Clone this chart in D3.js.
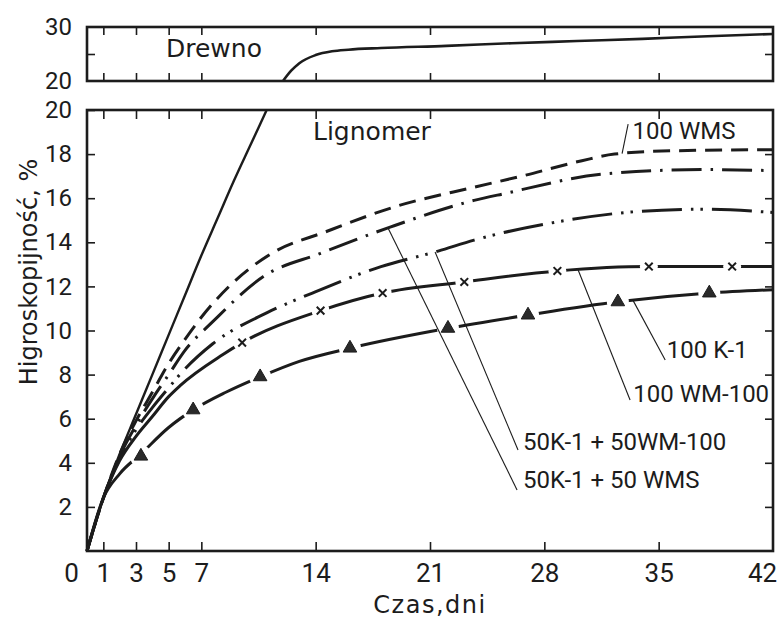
<!DOCTYPE html>
<html>
<head>
<meta charset="utf-8">
<script src="https://cdn.jsdelivr.net/npm/d3@7"></script>
<style>
  body { margin: 0; background: #fff; }
</style>
</head>
<body>
<div id="chart"></div>
<script>

// ---- data (days, hygroscopicity %) ----
const xTicks = [0, 1, 3, 5, 7, 14, 21, 28, 35, 42];
const yTicksMain = [2, 4, 6, 8, 10, 12, 14, 16, 18, 20];
const yTicksTop = [20, 30];

// wood (Drewno), lower panel up to 20 %, upper panel 20-30 %
const drewnoDays = [0, 1, 2, 3, 4, 5, 6, 7, 8, 9, 10, 11];
const drewnoVals = [0, 2.4, 4.4, 6.2, 8.0, 9.8, 11.6, 13.4, 15.1, 16.8, 18.4, 20.0];
const drewnoTopDays = [12, 12.5, 13, 14, 15, 16, 18, 22, 26, 30, 34, 38, 42];
const drewnoTopVals = [20, 21.9, 23.3, 24.8, 25.5, 25.8, 26.1, 26.5, 27.0, 27.4, 27.8, 28.3, 28.7];

// Lignomer series
const wmsDays = [0, 1, 2, 3, 4, 5, 6, 7, 8.7, 11.2, 14.7, 18.8, 23.7, 26.6, 30.3, 32.3, 35.8, 42];
const wmsVals = [0, 2.4, 4.4, 5.9, 7.2, 8.5, 9.6, 10.6, 12.0, 13.45, 14.5, 15.6, 16.5, 17.0, 17.7, 18.0, 18.15, 18.2];

const k1wmsDays = [0, 1, 2, 3, 4, 5, 6, 7.7, 10.8, 14.3, 18.6, 23.7, 25.5, 31.7, 37.8, 42];
const k1wmsVals = [0, 2.4, 4.3, 5.7, 6.9, 8.0, 9.1, 10.4, 12.45, 13.5, 14.7, 15.9, 16.2, 17.1, 17.3, 17.25];

const k1wm100Days = [0, 1, 2, 3, 4, 5, 5.8, 7.7, 11.0, 13.8, 18.0, 21.5, 23.7, 28.6, 33.8, 37.8, 42];
const k1wm100Vals = [0, 2.4, 4.2, 5.5, 6.5, 7.4, 8.1, 9.4, 10.8, 11.7, 12.9, 13.6, 14.1, 14.9, 15.4, 15.5, 15.35];

const wm100Days = [0, 1, 2, 3, 4, 5, 5.7, 8.3, 9.5, 14.3, 18.1, 23.1, 28.8, 34.4, 39.5, 42];
const wm100Vals = [0, 2.4, 4.1, 5.2, 6.1, 7.0, 7.5, 8.9, 9.45, 10.9, 11.7, 12.2, 12.7, 12.9, 12.9, 12.9];
const wm100MarkDays = [9.5, 14.3, 18.1, 23.1, 28.8, 34.4, 39.5];
const wm100MarkVals = [9.45, 10.9, 11.7, 12.2, 12.7, 12.9, 12.9];

const k1Days = [0, 1, 2, 3.3, 5, 6.5, 8.5, 10.6, 13, 16.1, 22.1, 27.0, 32.5, 38.1, 42];
const k1Vals = [0, 2.4, 3.5, 4.4, 5.6, 6.4, 7.2, 7.9, 8.6, 9.2, 10.1, 10.7, 11.3, 11.7, 11.85];
const k1MarkDays = [3.3, 6.5, 10.6, 16.1, 22.1, 27.0, 32.5, 38.1];
const k1MarkVals = [4.3, 6.4, 7.9, 9.2, 10.1, 10.7, 11.3, 11.7];

// ---- layout ----
const width = 780, height = 621;
const ink = "#1c1c1c";
const tickFont = "'Liberation Sans Narrow', Roboto, sans-serif";

const svg = d3.select("#chart").append("svg")
    .attr("width", width)
    .attr("height", height);

const x = d3.scaleLinear().domain([0, 42]).range([87, 773]);
const y = d3.scaleLinear().domain([0, 20]).range([551, 110]);
const yTop = d3.scaleLinear().domain([20, 30]).range([81, 27]);

const innerX = xTicks.filter(d => d > 0 && d < 42);

function clean(g) {
    g.select(".domain").remove();
    g.selectAll(".tick line").attr("stroke", ink).attr("stroke-width", 1.6);
    g.selectAll("text").attr("fill", ink).style("font-family", tickFont);
}

// main panel ticks
svg.append("g")
    .attr("transform", `translate(0,${y(0)})`)
    .call(d3.axisBottom(x).tickValues(xTicks).tickSize(-9).tickPadding(13).tickFormat(d3.format("d")))
    .call(clean)
    .call(g => g.selectAll("text").style("font-size", "26px"))
    .call(g => g.selectAll(".tick").filter(d => d === 0).select("text").attr("dx", -16))
    .call(g => g.selectAll(".tick").filter(d => d === 42).select("text").attr("dx", -11))
    .call(g => g.selectAll(".tick").filter(d => d === 0 || d === 42).select("line").remove());

svg.append("g")
    .attr("transform", `translate(0,${y(20)})`)
    .call(d3.axisTop(x).tickValues(innerX).tickSize(-9).tickFormat(""))
    .call(clean);

svg.append("g")
    .attr("transform", `translate(${x(0)},0)`)
    .call(d3.axisLeft(y).tickValues(yTicksMain).tickSize(-8).tickPadding(15))
    .call(clean)
    .call(g => g.selectAll("text").style("font-size", "24px"));

svg.append("g")
    .attr("transform", `translate(${x(42)},0)`)
    .call(d3.axisRight(y).tickValues(yTicksMain.filter(d => d < 20)).tickSize(-8).tickFormat(""))
    .call(clean);

// top panel ticks
svg.append("g")
    .attr("transform", `translate(0,${yTop(20)})`)
    .call(d3.axisBottom(x).tickValues(innerX).tickSize(-8).tickFormat(""))
    .call(clean);

svg.append("g")
    .attr("transform", `translate(0,${yTop(30)})`)
    .call(d3.axisTop(x).tickValues(innerX).tickSize(-8).tickFormat(""))
    .call(clean);

svg.append("g")
    .attr("transform", `translate(${x(0)},0)`)
    .call(d3.axisLeft(yTop).tickValues(yTicksTop).tickSize(0).tickPadding(15))
    .call(clean)
    .call(g => g.selectAll("text").style("font-size", "24px"));

svg.append("g")
    .attr("transform", `translate(${x(0)},0)`)
    .call(d3.axisLeft(yTop).tickValues([25]).tickSize(-8).tickFormat(""))
    .call(clean);

svg.append("g")
    .attr("transform", `translate(${x(42)},0)`)
    .call(d3.axisRight(yTop).tickValues([25]).tickSize(-8).tickFormat(""))
    .call(clean);

// frames
svg.append("rect")
    .attr("x", x(0)).attr("y", y(20))
    .attr("width", x(42) - x(0)).attr("height", y(0) - y(20))
    .attr("fill", "none").attr("stroke", ink).attr("stroke-width", 2.6);

svg.append("rect")
    .attr("x", x(0)).attr("y", yTop(30))
    .attr("width", x(42) - x(0)).attr("height", yTop(20) - yTop(30))
    .attr("fill", "none").attr("stroke", ink).attr("stroke-width", 2.6);

// ---- curves ----
const line = d3.line()
    .x(d => x(d[0]))
    .y(d => y(d[1]))
    .curve(d3.curveMonotoneX);

const lineTop = d3.line()
    .x(d => x(d[0]))
    .y(d => yTop(d[1]))
    .curve(d3.curveMonotoneX);

svg.append("path")
    .datum(d3.zip(drewnoDays, drewnoVals))
    .attr("d", line)
    .attr("fill", "none").attr("stroke", ink).attr("stroke-width", 2.4);

svg.append("path")
    .datum(d3.zip(drewnoTopDays, drewnoTopVals))
    .attr("d", lineTop)
    .attr("fill", "none").attr("stroke", ink).attr("stroke-width", 2.6);

const series = [
    {days: wmsDays, vals: wmsVals, dash: "17,9"},
    {days: k1wmsDays, vals: k1wmsVals, dash: "30,9,2.5,9"},
    {days: k1wm100Days, vals: k1wm100Vals, dash: "40,9,2.5,7,2.5,9"},
    {days: wm100Days, vals: wm100Vals, dash: null},
    {days: k1Days, vals: k1Vals, dash: null}
];

series.forEach(s => {
    svg.append("path")
        .datum(d3.zip(s.days, s.vals))
        .attr("d", line)
        .attr("fill", "none")
        .attr("stroke", ink)
        .attr("stroke-width", 3)
        .attr("stroke-dasharray", s.dash);
});

// gaps + markers
const xMarks = d3.zip(wm100MarkDays, wm100MarkVals);
const triMarks = d3.zip(k1MarkDays, k1MarkVals);

svg.selectAll(".halo-x").data(xMarks).enter().append("circle")
    .attr("cx", d => x(d[0])).attr("cy", d => y(d[1]))
    .attr("r", 9).attr("fill", "#fff");

svg.selectAll(".halo-t").data(triMarks).enter().append("circle")
    .attr("cx", d => x(d[0])).attr("cy", d => y(d[1]))
    .attr("r", 11).attr("fill", "#fff");

svg.selectAll(".mark-x").data(xMarks).enter().append("path")
    .attr("transform", d => `translate(${x(d[0])},${y(d[1])})`)
    .attr("d", d3.symbol(d3.symbolX, 40))
    .attr("fill", "none").attr("stroke", ink).attr("stroke-width", 2);

svg.selectAll(".mark-t").data(triMarks).enter().append("path")
    .attr("transform", d => `translate(${x(d[0])},${y(d[1])})`)
    .attr("d", d3.symbol(d3.symbolTriangle, 80))
    .attr("fill", "#2a2a2a").attr("stroke", ink).attr("stroke-width", 1);

// ---- labels with leader lines ----
function valueAt(days, vals, d) {
    const i = d3.bisectRight(days, d);
    const t = (d - days[i - 1]) / (days[i] - days[i - 1]);
    return vals[i - 1] + t * (vals[i] - vals[i - 1]);
}

const labels = [
    {text: "100 WMS", s: 0, at: 32.76, end: [33.13, 19.36], pos: [33.4, 18.7]},
    {text: "50K-1 + 50 WMS", s: 1, at: 18.43, end: [26.33, 2.77], pos: [26.7, 2.86]},
    {text: "50K-1 + 50WM-100", s: 2, at: 21.31, end: [26.39, 4.58], pos: [26.7, 4.58]},
    {text: "100 WM-100", s: 3, at: 30.07, end: [33.25, 6.85], pos: [33.45, 6.76]},
    {text: "100 K-1", s: 4, at: 33.43, end: [35.4, 8.66], pos: [35.5, 8.75]}
];

labels.forEach(l => {
    const s = series[l.s];
    svg.append("line")
        .attr("x1", x(l.at)).attr("y1", y(valueAt(s.days, s.vals, l.at)))
        .attr("x2", x(l.end[0])).attr("y2", y(l.end[1]))
        .attr("stroke", ink).attr("stroke-width", 1.1);
    svg.append("text")
        .attr("x", x(l.pos[0])).attr("y", y(l.pos[1]))
        .style("font-family", "Roboto, sans-serif")
        .style("font-size", "24px")
        .attr("fill", ink)
        .text(l.text);
});

svg.append("text")
    .attr("x", 166).attr("y", 57)
    .style("font-family", "'DejaVu Sans', sans-serif")
    .style("font-size", "25px")
    .attr("fill", ink)
    .text("Drewno");

svg.append("text")
    .attr("x", 313).attr("y", 140)
    .style("font-family", "'DejaVu Sans', sans-serif")
    .style("font-size", "25px")
    .attr("fill", ink)
    .text("Lignomer");

// axis titles
svg.append("text")
    .attr("transform", "translate(37,272) rotate(-90)")
    .attr("text-anchor", "middle")
    .style("font-family", "'DejaVu Sans', sans-serif")
    .style("font-size", "24px")
    .attr("fill", ink)
    .text("Higroskopijność, %");

svg.append("text")
    .attr("x", 430).attr("y", 613)
    .attr("text-anchor", "middle")
    .style("font-family", "'DejaVu Sans', sans-serif")
    .style("font-size", "24px")
    .style("letter-spacing", "1.5px")
    .attr("fill", ink)
    .text("Czas,dni");

</script>
</body>
</html>
